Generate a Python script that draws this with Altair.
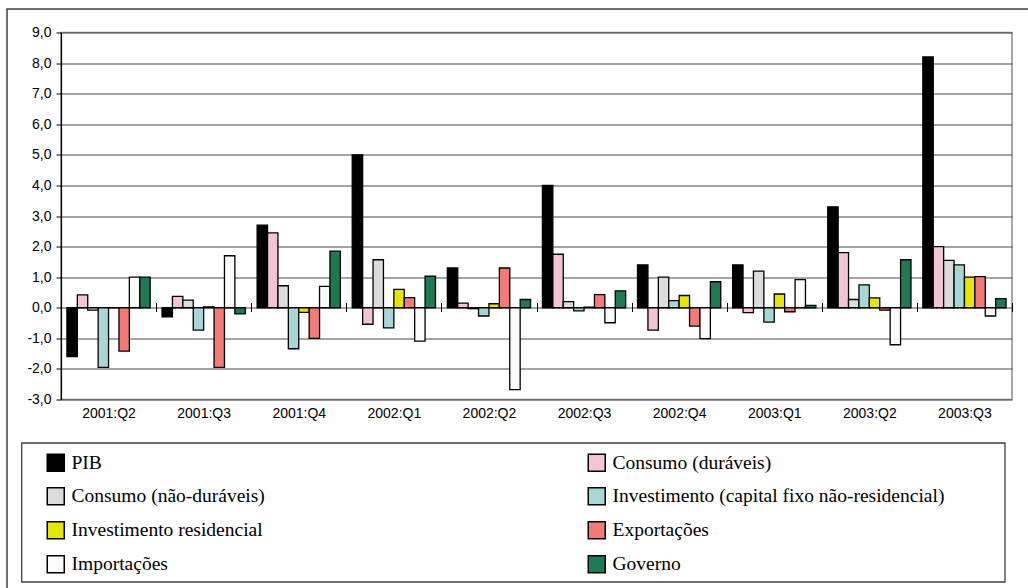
import altair as alt
import pandas as pd

trimestres = ["2001:Q2", "2001:Q3", "2001:Q4", "2002:Q1", "2002:Q2",
              "2002:Q3", "2002:Q4", "2003:Q1", "2003:Q2", "2003:Q3"]

series = ["PIB", "Consumo (duráveis)", "Consumo (não-duráveis)",
          "Investimento (capital fixo não-residencial)", "Investimento residencial",
          "Exportações", "Importações", "Governo"]

pib = [-1.6, -0.3, 2.7, 5.0, 1.3, 4.0, 1.4, 1.4, 3.3, 8.2]
consumo_dur = [0.42, 0.37, 2.45, -0.54, 0.15, 1.75, -0.73, -0.16, 1.8, 2.0]
consumo_ndur = [-0.08, 0.25, 0.72, 1.57, -0.03, 0.2, 1.0, 1.2, 0.27, 1.55]
invest_fixo = [-1.95, -0.73, -1.34, -0.66, -0.27, -0.1, 0.23, -0.47, 0.75, 1.4]
invest_res = [0.0, 0.03, -0.15, 0.6, 0.13, 0.02, 0.4, 0.45, 0.32, 1.0]
exportacoes = [-1.42, -1.95, -1.0, 0.33, 1.3, 0.43, -0.6, -0.13, -0.08, 1.02]
importacoes = [1.0, 1.7, 0.7, -1.09, -2.68, -0.49, -1.01, 0.92, -1.21, -0.27]
governo = [1.0, -0.2, 1.85, 1.03, 0.27, 0.55, 0.85, 0.08, 1.57, 0.3]

cores = ["#000000", "#F2C4D6", "#DCDCDC", "#A6D6D6", "#E6E600",
         "#F47A78", "#FBFBFB", "#1E7A52"]

valores = [pib, consumo_dur, consumo_ndur, invest_fixo, invest_res,
           exportacoes, importacoes, governo]

rows = []
for s, vals in zip(series, valores):
    for t, v in zip(trimestres, vals):
        rows.append({"trimestre": t, "serie": s, "valor": v})
df = pd.DataFrame(rows)

W, H = 951, 367
PL, PT = 61, 32.5
PR = 1028 - PL - W
PB = 588 - PT - H

y_label = "replace(replace(format(datum.value, '.1f'), '.', ','), '\u2212', '-')"

bars = alt.Chart(df).mark_bar(stroke="black", strokeWidth=1.3).encode(
    x=alt.X("trimestre:N", sort=trimestres,
            scale=alt.Scale(paddingInner=0, paddingOuter=0),
            axis=alt.Axis(orient="bottom", offset=-97, domain=False,
                          tickBand="extent", tickSize=9, tickColor="black",
                          tickWidth=1, labelPadding=95, labelAngle=0,
                          title=None, grid=False,
                          labelFont="Liberation Sans", labelFontSize=14,
                          labelColor="black")),
    xOffset=alt.XOffset("serie:N", sort=series,
                        scale=alt.Scale(paddingInner=0, paddingOuter=0.57)),
    y=alt.Y("valor:Q",
            scale=alt.Scale(domain=[-3, 9], nice=False, zero=False),
            axis=alt.Axis(values=list(range(-3, 10)), labelExpr=y_label,
                          title=None, grid=True, gridColor="#4a4a4a",
                          gridWidth=1, domainColor="black", domainWidth=1.2,
                          tickColor="black", tickSize=5, labelPadding=5,
                          labelFont="Liberation Sans", labelFontSize=14,
                          labelColor="black")),
    color=alt.Color("serie:N", sort=series,
                    scale=alt.Scale(domain=series, range=cores),
                    legend=alt.Legend(title=None, orient="none",
                                      direction="horizontal",
                                      legendX=-15, legendY=420,
                                      columns=2, columnPadding=320,
                                      rowPadding=10, symbolType="square",
                                      symbolSize=289, symbolStrokeColor="black",
                                      symbolStrokeWidth=1.5, symbolOpacity=1,
                                      labelFont="Liberation Serif",
                                      labelFontSize=19.5, labelColor="black",
                                      labelOffset=6, labelLimit=500,
                                      padding=0)),
)

one = pd.DataFrame({"a": [0]})

legend_box = alt.Chart(one).mark_rect(fill=None, stroke="#404040", strokeWidth=1.3).encode(
    x=alt.value(21.7 - PL), x2=alt.value(1005 - PL),
    y=alt.value(443 - PT), y2=alt.value(582 - PT),
)

outer_box = alt.Chart(one).mark_rect(fill=None, stroke="#404040", strokeWidth=1.5).encode(
    x=alt.value(7 - PL), x2=alt.value(1060 - PL),
    y=alt.value(9 - PT), y2=alt.value(620 - PT),
)

chart = alt.layer(outer_box, legend_box, bars).properties(
    width=W, height=H,
    padding={"left": PL, "top": PT, "right": PR, "bottom": PB},
    autosize=alt.AutoSizeParams(type="none"),
    background="white",
).configure_view(stroke="#8a8a8a", strokeWidth=1.5)

chart.save("out.html", embed_options={"renderer": "svg", "actions": False})
